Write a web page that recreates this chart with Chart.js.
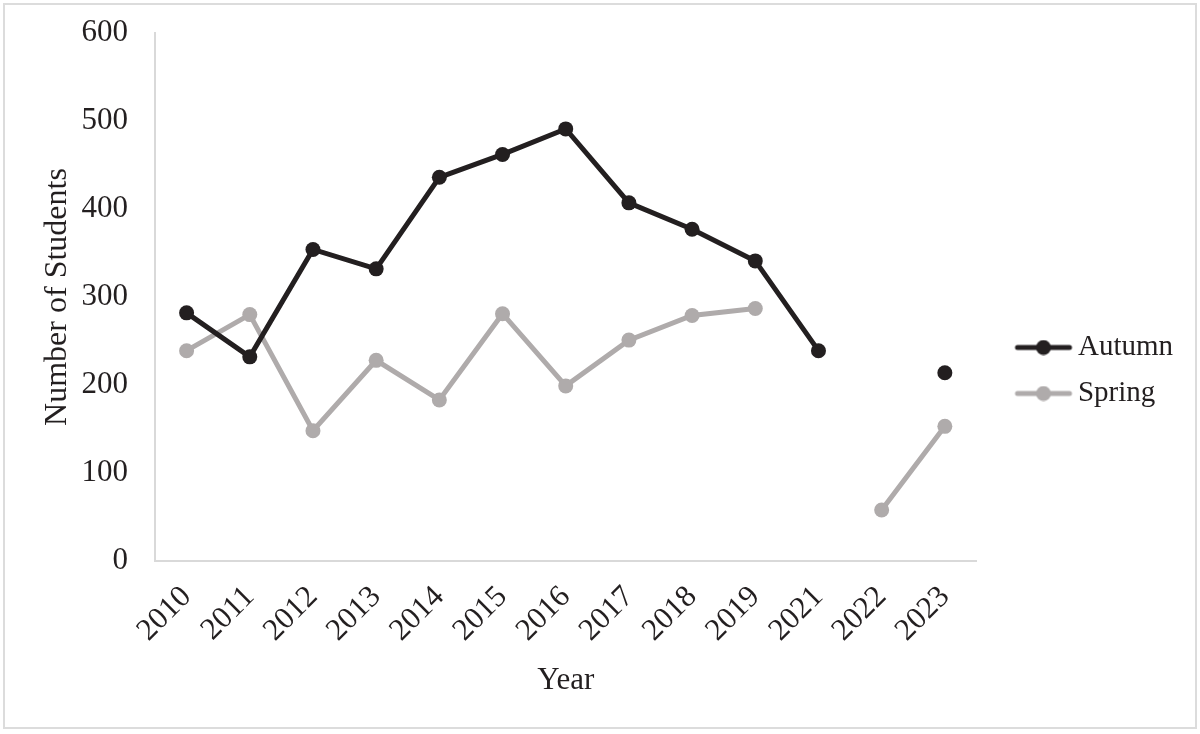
<!DOCTYPE html>
<html>
<head>
<meta charset="utf-8">
<script src="https://cdn.jsdelivr.net/npm/chart.js@4"></script>
<style>
  body { margin: 0; background: #fff; }
  .wrap { position: relative; width: 1200px; height: 734px; }
  .frame { position: absolute; left: 3px; top: 3px; right: 3px; bottom: 5px; border: 2px solid #dcdcdc; pointer-events: none; }
  canvas { position: absolute; left: 0; top: 0; }
</style>
</head>
<body>
<div class="wrap">
  <canvas id="studentsChart" width="1200" height="734"></canvas>
  <div class="frame"></div>
</div>
<script>
const years = ['2010', '2011', '2012', '2013', '2014', '2015', '2016', '2017', '2018', '2019', '2021', '2022', '2023']
const autumn = [282, 232, 354, 332, 436, 462, 491, 407, 377, 341, 239, null, 214]
const spring = [239, 280, 148, 228, 183, 281, 199, 251, 279, 287, null, 58, 153]
const yTicks = [0, 100, 200, 300, 400, 500, 600]

const dark = '#231f20'
const grey = '#afabab'
const font = "'Liberation Serif', 'Times New Roman', serif"

// legend marker: line with a dot in the middle
function legendMarker(color) {
    const c = document.createElement('canvas')
    c.width = 90
    c.height = 16
    const g = c.getContext('2d')
    g.strokeStyle = color
    g.lineWidth = 5
    g.lineCap = 'round'
    g.beginPath()
    g.moveTo(34, 8)
    g.lineTo(86, 8)
    g.stroke()
    g.fillStyle = color
    g.beginPath()
    g.arc(60, 8, 7.5, 0, Math.PI * 2)
    g.fill()
    return c
}
const markers = [legendMarker(dark), legendMarker(grey)]

const ctx = document.getElementById('studentsChart').getContext('2d')
new Chart(ctx, {
    type: 'line',
    data: {
        labels: years,
        datasets: [{
            label: 'Autumn',
            data: autumn,
            borderColor: dark,
            backgroundColor: dark,
            borderWidth: 5,
            pointRadius: 7.5,
            pointBorderWidth: 0,
            spanGaps: false,
            tension: 0
        }, {
            label: 'Spring',
            data: spring,
            borderColor: grey,
            backgroundColor: grey,
            borderWidth: 5,
            pointRadius: 7.5,
            pointBorderWidth: 0,
            spanGaps: false,
            tension: 0
        }]
    },
    options: {
        responsive: false,
        animation: false,
        devicePixelRatio: 1,
        layout: { padding: { left: 10, top: 33, right: 17, bottom: 26 } },
        plugins: {
            tooltip: { enabled: false },
            legend: {
                position: 'right',
                labels: {
                    usePointStyle: true,
                    pointStyleWidth: 70,
                    padding: 17,
                    color: dark,
                    font: { family: font, size: 29 },
                    generateLabels(chart) {
                        const items = Chart.defaults.plugins.legend.labels.generateLabels(chart)
                        items.forEach((it, i) => { it.pointStyle = markers[i] })
                        return items
                    }
                }
            }
        },
        scales: {
            x: {
                offset: true,
                grid: { display: false, drawTicks: false },
                border: { display: true, color: '#d9d9d9', width: 2 },
                ticks: {
                    color: dark,
                    font: { family: font, size: 31 },
                    minRotation: 45,
                    maxRotation: 45,
                    padding: 18
                },
                title: {
                    display: true,
                    text: 'Year',
                    color: dark,
                    font: { family: font, size: 31 },
                    padding: { top: 0, bottom: 9 }
                },
                afterFit(scale) {
                    scale.height = 147
                    scale.paddingLeft = 0
                    scale.paddingRight = 0
                }
            },
            y: {
                min: 0,
                max: 600,
                grid: { display: false, drawTicks: false },
                border: { display: true, color: '#d9d9d9', width: 2 },
                afterBuildTicks(scale) { scale.ticks = yTicks.map(v => ({ value: v })) },
                ticks: {
                    color: dark,
                    font: { family: font, size: 31 },
                    padding: 27
                },
                title: {
                    display: true,
                    text: 'Number of Students',
                    color: dark,
                    font: { family: font, size: 32 },
                    padding: { top: 28, bottom: 0 }
                },
                afterFit(scale) {
                    scale.width = 145
                    scale.paddingTop = 0
                    scale.paddingBottom = 0
                }
            }
        }
    }
})
</script>
</body>
</html>
